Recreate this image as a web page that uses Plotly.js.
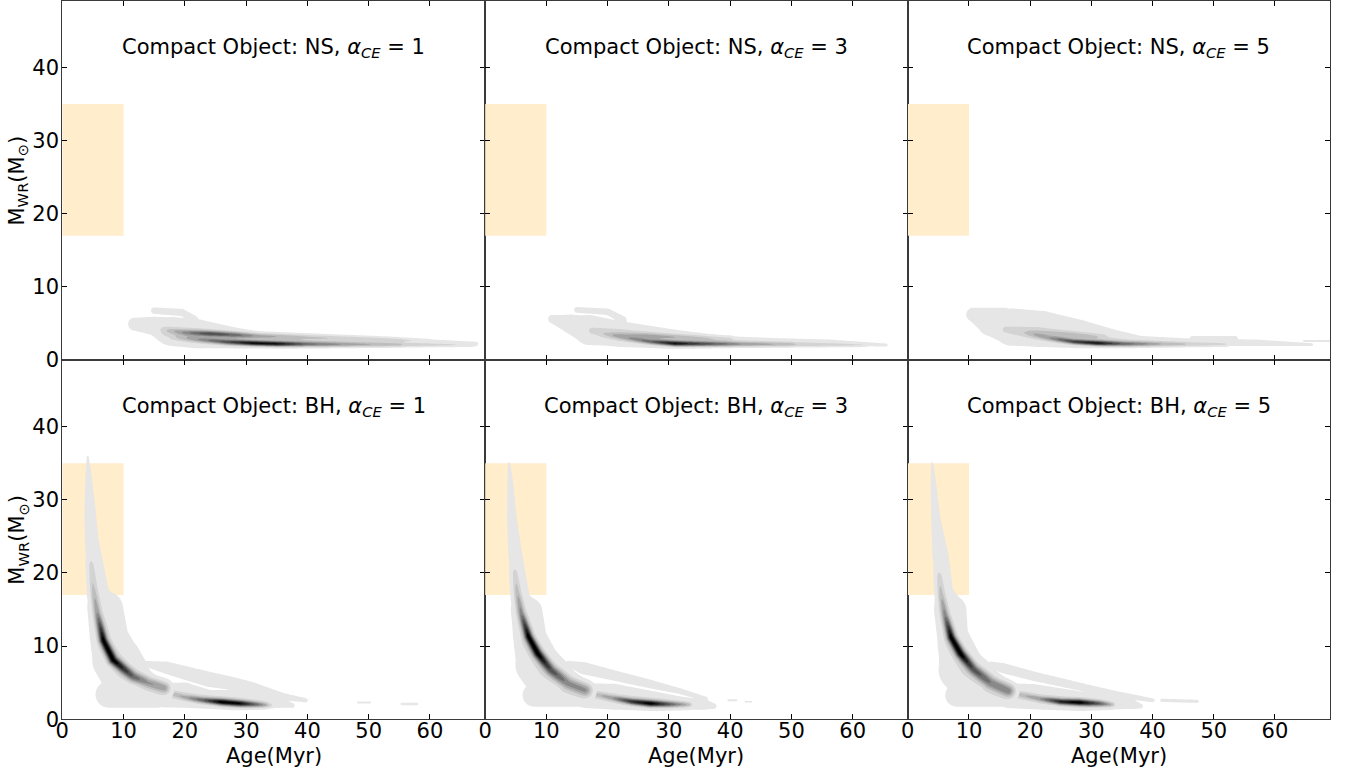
<!DOCTYPE html>
<html>
<head>
<meta charset="utf-8">
<script src="https://cdn.plot.ly/plotly-3.0.1.min.js"></script>
<style>
  html, body { margin: 0; padding: 0; background: #ffffff; }
  #chart { width: 1348px; height: 770px; }
</style>
</head>
<body>
<div id="chart"></div>
<script>
// Panel grid: compact-object type by row, common-envelope efficiency by column
const compactObjects = ['NS', 'BH'];
const alphaCE = [1, 3, 5];

const ageTicks = [0, 10, 20, 30, 40, 50, 60];
const massTicks = [0, 10, 20, 30, 40];
const ageRange = [0, 69];
const massRange = [0, 49.1];

// Observed Wolf-Rayet window
const obsAge = [0, 10];
const obsMass = [17, 35];

// Population density tracks.
// Each row: [age (Myr), M_WR (Msun), density weight, kernel bandwidth (Myr)]

// --- NS, alpha_CE = 1 ---
const ns1Body = [[11.8, 4.9, 2, 0.9], [15, 4.65, 2, 1.3], [18, 4.0, 2, 1.9], [22, 3.75, 2, 1.85], [28, 3.15, 2, 1.25], [32, 2.8, 2, 0.9], [45, 2.6, 2, 0.7], [54, 2.5, 2, 0.58], [67.5, 2.2, 2, 0.3]];
const ns1Knob = [[15, 6.75, 2, 0.45], [19.5, 6.5, 2, 0.5], [21.5, 5.6, 2, 0.5]];
const ns1Mid = [[17, 3.6, 1.5, 0.9], [22, 3.2, 2.5, 0.9], [30, 2.75, 2.5, 0.7], [40, 2.5, 2, 0.5], [55, 2.3, 1.2, 0.4]];
const ns1Upper = [[16.5, 4.1, 1, 0.35], [20, 3.75, 6, 0.35], [24, 3.6, 11, 0.32], [28, 3.45, 9, 0.32], [32, 3.3, 5, 0.3], [40, 3.15, 3, 0.3], [52, 2.85, 2, 0.25], [60, 2.6, 0.8, 0.2]];
const ns1Lower = [[18, 3.1, 1, 0.3], [22, 2.8, 5, 0.3], [27, 2.45, 11, 0.3], [31, 2.3, 16, 0.28], [35, 2.2, 16, 0.28], [40, 2.15, 9, 0.28], [48, 2.1, 5, 0.25], [58, 2.05, 2.5, 0.22], [67, 2.0, 1, 0.2]];

// --- NS, alpha_CE = 3 ---
const ns3Body = [[11, 5.6, 2, 0.6], [14, 4.9, 2, 1.35], [17, 4.1, 2, 2.1], [22, 3.6, 2, 1.7], [30, 3.05, 2, 1.17], [38, 2.6, 2, 0.7], [47, 2.45, 2, 0.56], [56, 2.35, 2, 0.46], [65.5, 2.05, 2, 0.2]];
const ns3Knob = [[15, 6.85, 2, 0.4], [20, 6.6, 2, 0.45], [22.5, 5.5, 2, 0.5]];
const ns3Mid = [[17.5, 4.0, 1.5, 0.6], [22, 3.4, 2.5, 0.8], [30, 2.7, 2.5, 0.7], [40, 2.35, 1.5, 0.4], [50, 2.2, 0.8, 0.3]];
const ns3Upper = [[21, 3.55, 1, 0.3], [27, 3.3, 4, 0.3], [33, 3.1, 3, 0.3], [40, 2.9, 1.5, 0.3]];
const ns3Lower = [[19, 3.6, 1, 0.3], [23, 3.0, 4, 0.3], [27, 2.5, 9, 0.28], [31, 2.25, 16, 0.28], [35, 2.2, 12, 0.28], [42, 2.15, 6, 0.26], [52, 2.1, 3, 0.24], [62, 2.0, 1.2, 0.2]];

// --- NS, alpha_CE = 5 ---
const ns5Body = [[10.6, 6.2, 2, 0.9], [13.5, 5.0, 2, 1.75], [17, 4.5, 2, 2.6], [22, 4.3, 2, 2.45], [28, 3.7, 2, 1.85], [34, 3.0, 2, 1.1], [38, 2.6, 2, 0.7], [46, 2.45, 2, 0.5], [57, 2.35, 2, 0.45], [66, 2.1, 2, 0.2]];
const ns5Cap = [[10.5, 6.6, 2, 0.55], [16, 6.6, 2, 0.55]];
const ns5Bump = [[46.5, 2.9, 2, 0.38], [53.5, 2.9, 2, 0.38]];
const ns5Streak = [[64.8, 2.6, 2, 0.15], [69.5, 2.6, 2, 0.15]];
const ns5Mid = [[16, 4.1, 1.5, 0.6], [21, 3.6, 2.5, 0.8], [28, 2.9, 2.5, 0.7], [36, 2.4, 1.5, 0.4], [45, 2.2, 0.7, 0.3]];
const ns5Upper = [[20, 3.9, 1, 0.3], [26, 3.5, 3, 0.3], [32, 3.2, 1.5, 0.3]];
const ns5Lower = [[19, 3.7, 1, 0.3], [23, 3.0, 5, 0.3], [27, 2.5, 12, 0.28], [31, 2.3, 16, 0.28], [35, 2.2, 10, 0.28], [42, 2.15, 4, 0.26], [52, 2.1, 1.5, 0.24]];

// --- BH, alpha_CE = 1 ---
const bh1Spike = [[4.15, 35.9, 2, 0.13], [4.3, 33, 2, 0.45], [4.5, 29, 2, 0.75], [4.8, 24.5, 2, 0.95], [6.0, 17, 2, 1.45], [7.2, 15.2, 2, 2.3], [7.7, 11.3, 2, 2.6], [8.9, 8.1, 2, 3.4], [10, 6.5, 2, 3.4]];
const bh1Block = [[7.6, 3.4, 2, 1.85], [15.5, 3.4, 2, 1.85]];
const bh1Curve = [[4.5, 22.7, 0.5, 0.3], [5.0, 18, 2.5, 0.35], [5.7, 14.5, 6, 0.4], [6.7, 10.8, 17, 0.45], [8.3, 8.1, 17, 0.5], [11.6, 5.8, 9, 0.55], [14, 5.0, 6, 0.6], [16.6, 4.3, 5, 0.6]];
const bh1CurveMid = [[4.7, 21, 0.8, 0.5], [5.5, 15, 1.5, 0.7], [7, 10, 2, 0.9], [10, 6.6, 2, 0.9], [14, 5.0, 2, 0.8], [16.8, 4.3, 2, 0.8]];
const bh1Branch = [[13.5, 7.6, 2, 0.4], [17, 7.05, 2, 0.85], [20, 6.35, 2, 0.95], [24, 5.45, 2, 1.05], [28, 4.85, 2, 0.9], [31, 4.3, 2, 0.8], [36, 3.1, 2, 0.5], [39.7, 2.6, 2, 0.3]];
const bh1Tail = [[16.5, 3.3, 2, 1.7], [20, 3.3, 2, 1.75], [24, 2.75, 2, 1.25], [28, 2.75, 2, 1.3], [32, 2.5, 2, 1.0], [36, 2.2, 2, 0.65], [37.5, 1.9, 2, 0.35]];
const bh1TailRidge = [[17.5, 3.6, 2, 0.3], [20, 3.0, 4, 0.3], [23, 2.6, 9, 0.32], [26, 2.35, 17, 0.35], [29, 2.15, 16, 0.35], [32, 2.0, 8, 0.3], [34, 1.9, 2, 0.25]];
const bh1TailMid = [[17.5, 3.5, 1.5, 0.6], [22, 2.8, 2, 0.6], [28, 2.3, 2, 0.6], [33, 2.0, 1.5, 0.4]];
const bh1DotA = [[48.3, 2.3, 2, 0.15], [50.2, 2.3, 2, 0.15]];
const bh1DotB = [[55.4, 2.1, 2, 0.17], [57.9, 2.1, 2, 0.17]];

// --- BH, alpha_CE = 3 ---
const bh3Spike = [[3.9, 35.0, 2, 0.13], [4.1, 32.5, 2, 0.4], [4.4, 27.2, 2, 0.68], [4.9, 22.7, 2, 0.95], [5.9, 16.5, 2, 1.2], [7.0, 14.7, 2, 2.0], [7.35, 11.3, 2, 2.25], [8.6, 7.5, 2, 3.1], [10, 6.0, 2, 3.2]];
const bh3Block = [[8.0, 3.3, 2, 1.6], [15.4, 3.3, 2, 1.6]];
const bh3Curve = [[4.7, 20.8, 0.5, 0.3], [5.2, 17.5, 3, 0.35], [5.9, 14.5, 7, 0.4], [7.1, 11.3, 17, 0.45], [8.6, 9.0, 17, 0.5], [10.8, 6.7, 10, 0.55], [13.5, 4.9, 6, 0.65], [16.3, 4.0, 5, 0.65]];
const bh3CurveMid = [[4.8, 20, 0.8, 0.5], [5.5, 15, 1.5, 0.7], [7, 10.5, 2, 0.9], [10, 7, 2.5, 1.0], [13.5, 5, 3, 1.0], [16.6, 4.0, 3, 0.9]];
const bh3Branch = [[13.6, 7.6, 2, 0.4], [16, 7.0, 2, 0.85], [21, 6.0, 2, 0.72], [26.3, 4.95, 2, 0.62], [31.8, 3.85, 2, 0.4], [36, 2.8, 2, 0.3]];
const bh3Tail = [[16.5, 3.2, 2, 1.7], [21, 3.1, 2, 1.8], [26.3, 2.65, 2, 1.37], [31.8, 2.2, 2, 0.92], [36, 2.0, 2, 0.7], [37.3, 1.8, 2, 0.4]];
const bh3TailRidge = [[17.5, 3.5, 2, 0.3], [20.8, 2.9, 5, 0.3], [24, 2.4, 13, 0.33], [27, 2.15, 17, 0.35], [30, 2.05, 10, 0.32], [33.4, 2.0, 2.5, 0.25]];
const bh3TailMid = [[17.5, 3.5, 1.5, 0.6], [22, 2.7, 2, 0.6], [28, 2.2, 2, 0.6], [33, 2.0, 1.2, 0.4]];
const bh3DashA = [[39.7, 2.6, 2, 0.15], [41, 2.6, 2, 0.15]];
const bh3DashB = [[42.5, 2.4, 2, 0.12], [43.5, 2.4, 2, 0.12]];

// --- BH, alpha_CE = 5 ---
const bh5Spike = [[4.0, 35.0, 2, 0.13], [4.2, 32, 2, 0.4], [4.6, 27.2, 2, 0.65], [5.3, 22.7, 2, 1.1], [6.0, 17.4, 2, 1.2], [7.1, 14.9, 2, 2.1], [7.4, 11.7, 2, 2.05], [8.8, 6.8, 2, 3.2], [10, 5.8, 2, 3.2]];
const bh5Block = [[8.0, 3.3, 2, 1.6], [15.4, 3.3, 2, 1.6]];
const bh5Curve = [[5.0, 20.4, 0.5, 0.3], [5.4, 17.2, 3, 0.35], [6.1, 14.2, 7, 0.4], [7.1, 11.2, 17, 0.45], [8.6, 9.0, 17, 0.5], [10.8, 6.8, 10, 0.55], [13.5, 5.0, 7, 0.65], [16.4, 3.9, 6, 0.65]];
const bh5CurveMid = [[5.1, 19.6, 0.8, 0.5], [5.7, 15, 1.5, 0.7], [7, 10.5, 2, 0.9], [10, 7, 2.5, 1.0], [13.5, 5, 3, 1.0], [16.6, 3.9, 3, 0.9]];
const bh5Branch = [[13.5, 7.5, 2, 0.4], [15.5, 7.0, 2, 0.7], [20.5, 5.9, 2, 0.65], [28.7, 4.35, 2, 0.55], [34.1, 3.4, 2, 0.45], [40, 2.6, 2, 0.28]];
const bh5Tail = [[16.5, 3.2, 2, 1.7], [20.5, 3.1, 2, 1.75], [28.7, 2.5, 2, 1.25], [34, 2.3, 2, 0.95], [37, 2.0, 2, 0.6], [38, 1.8, 2, 0.35]];
const bh5TailRidge = [[17.5, 3.5, 2, 0.3], [21.6, 2.8, 5, 0.3], [25, 2.4, 14, 0.33], [28, 2.3, 17, 0.35], [31.3, 2.15, 10, 0.32], [33.5, 2.0, 3, 0.25]];
const bh5TailMid = [[17.5, 3.5, 1.5, 0.6], [22, 2.7, 2, 0.6], [28, 2.25, 2, 0.6], [33, 2.0, 1.2, 0.4]];
const bh5Dash = [[41.5, 2.6, 2, 0.22], [47.3, 2.45, 2, 0.22]];

// Layers per panel (drawn back to front). "base" tracks combine by max,
// "ridge" tracks add on top of them.
const panelLayers = [
  [{ base: [ns1Body, ns1Knob], ridge: [ns1Mid, ns1Upper, ns1Lower] }],
  [{ base: [ns3Body, ns3Knob], ridge: [ns3Mid, ns3Upper, ns3Lower] }],
  [{ base: [ns5Body, ns5Cap, ns5Bump, ns5Streak], ridge: [ns5Mid, ns5Upper, ns5Lower] }],
  [{ base: [bh1Branch, bh1Tail, bh1DotA, bh1DotB], ridge: [bh1TailMid, bh1TailRidge] },
   { base: [bh1Spike, bh1Block], ridge: [bh1CurveMid, bh1Curve] }],
  [{ base: [bh3Branch, bh3Tail, bh3DashA, bh3DashB], ridge: [bh3TailMid, bh3TailRidge] },
   { base: [bh3Spike, bh3Block], ridge: [bh3CurveMid, bh3Curve] }],
  [{ base: [bh5Branch, bh5Tail, bh5Dash], ridge: [bh5TailMid, bh5TailRidge] },
   { base: [bh5Spike, bh5Block], ridge: [bh5CurveMid, bh5Curve] }]
];

// ---------- density evaluation ----------
const KY = 1.2; // mass units weighted against age units in the kernel metric

function gridAxis(parts) {
  const out = [];
  parts.forEach(([a, b, step]) => {
    const n = Math.round((b - a) / step);
    for (let i = (out.length ? 1 : 0); i <= n; i++) out.push(+(a + i * step).toFixed(4));
  });
  return out;
}
const gx = gridAxis([[0, 20, 0.08], [20, 69.5, 0.25]]);
const gyTop = gridAxis([[0, 9, 0.03]]);
const gyBottom = gridAxis([[0, 12, 0.04], [12, 38, 0.1]]);

function trackField(track, xs, ys) {
  const nx = xs.length, ny = ys.length;
  const f = new Float64Array(nx * ny);
  for (let s = 0; s < track.length - 1; s++) {
    const [ax, am, aw, ab] = track[s];
    const [bx, bm, bw, bb] = track[s + 1];
    const ay = am * KY, by = bm * KY;
    const vx = bx - ax, vy = by - ay, L2 = vx * vx + vy * vy;
    const reach = 4.5 * Math.max(ab, bb);
    const xmin = Math.min(ax, bx) - reach, xmax = Math.max(ax, bx) + reach;
    const ymin = (Math.min(ay, by) - reach) / KY, ymax = (Math.max(ay, by) + reach) / KY;
    for (let j = 0; j < ny; j++) {
      const Y = ys[j];
      if (Y < ymin || Y > ymax) continue;
      const py = Y * KY;
      for (let i = 0; i < nx; i++) {
        const X = xs[i];
        if (X < xmin || X > xmax) continue;
        let t = L2 > 0 ? ((X - ax) * vx + (py - ay) * vy) / L2 : 0;
        t = t < 0 ? 0 : (t > 1 ? 1 : t);
        const dx = X - (ax + t * vx), dy = py - (ay + t * vy);
        const b = ab + t * (bb - ab), w = aw + t * (bw - aw);
        const v = w * Math.exp(-(dx * dx + dy * dy) / (2 * b * b));
        const k = j * nx + i;
        if (v > f[k]) f[k] = v;
      }
    }
  }
  return f;
}

function layerField(layer, xs, ys) {
  const n = xs.length * ys.length;
  const base = new Float64Array(n), ridge = new Float64Array(n);
  layer.base.forEach(tr => { const f = trackField(tr, xs, ys); for (let k = 0; k < n; k++) if (f[k] > base[k]) base[k] = f[k]; });
  layer.ridge.forEach(tr => { const f = trackField(tr, xs, ys); for (let k = 0; k < n; k++) ridge[k] += f[k]; });
  const z = [];
  for (let j = 0; j < ys.length; j++) {
    const row = new Array(xs.length);
    for (let i = 0; i < xs.length; i++) { const k = j * xs.length + i; row[i] = base[k] + ridge[k]; }
    z.push(row);
  }
  return z;
}

// ---------- styling ----------
const FONT = 'DejaVu Sans, Liberation Sans, sans-serif';
const bandColors = ['rgba(255,255,255,0)', '#e6e6e6', '#d3d3d3', '#bdbdbd', '#a4a4a4', '#898989', '#6e6e6e', '#535353', '#383838', '#1d1d1d', '#000000'];
const greyScale = bandColors.map((c, k) => [k / (bandColors.length - 1), c]);

const W = 1348, H = 770;
const colEdges = [62.3, 485.1, 907.8, 1330];
const rowEdges = [1, 360, 719.3];

const traces = [];
const layout = {
  width: W, height: H,
  margin: { l: 0, r: 0, t: 0, b: 0 },
  paper_bgcolor: '#ffffff', plot_bgcolor: '#ffffff',
  showlegend: false,
  font: { family: FONT, size: 21, color: '#000' },
  shapes: [], annotations: []
};

for (let p = 0; p < 6; p++) {
  const row = Math.floor(p / 3), col = p % 3, n = p + 1;
  const xa = 'x' + n, ya = 'y' + n;
  const xs = gx, ys = row === 0 ? gyTop : gyBottom;

  panelLayers[p].forEach(layer => {
    traces.push({
      type: 'contour', x: xs, y: ys, z: layerField(layer, xs, ys),
      xaxis: xa, yaxis: ya,
      autocontour: false,
      contours: { start: 1, end: 19, size: 2, coloring: 'fill', showlines: false },
      colorscale: greyScale, showscale: false,
      line: { width: 0, smoothing: 1 },
      hoverinfo: 'skip'
    });
  });

  const axCommon = {
    ticks: 'inside', ticklen: 5, tickwidth: 1, tickcolor: '#000',
    showline: true, linecolor: '#3a3a3a', linewidth: 1, mirror: 'ticks',
    showgrid: false, zeroline: false, fixedrange: true,
    tickfont: { family: FONT, size: 21, color: '#000' }
  };
  layout['xaxis' + (n === 1 ? '' : n)] = Object.assign({}, axCommon, {
    domain: [colEdges[col] / W, colEdges[col + 1] / W],
    range: ageRange, tickmode: 'array', tickvals: ageTicks, ticktext: ageTicks.map(String),
    anchor: ya, showticklabels: row === 1, ticklabelstandoff: -8
  });
  layout['yaxis' + (n === 1 ? '' : n)] = Object.assign({}, axCommon, {
    domain: [1 - rowEdges[row + 1] / H, 1 - rowEdges[row] / H],
    range: massRange, tickmode: 'array', tickvals: massTicks, ticktext: massTicks.map(String),
    anchor: xa, showticklabels: col === 0, ticklabelstandoff: -2
  });

  layout.shapes.push({
    type: 'rect', xref: xa, yref: ya, layer: 'below',
    x0: obsAge[0], x1: obsAge[1], y0: obsMass[0], y1: obsMass[1],
    fillcolor: '#ffedcc', line: { width: 0 }
  });

  layout.annotations.push({
    xref: xa + ' domain', yref: ya + ' domain', x: 0.5, y: 0.868,
    xanchor: 'center', yanchor: 'middle', showarrow: false,
    text: 'Compact Object: ' + compactObjects[row] + ', <i>α</i><sub><i>CE</i></sub> = ' + alphaCE[col],
    font: { family: FONT, size: 21, color: '#000' }
  });

  if (row === 1) {
    layout.annotations.push({
      xref: xa + ' domain', yref: 'paper', x: 0.5, y: 1 - 756 / H,
      xanchor: 'center', yanchor: 'middle', showarrow: false,
      text: 'Age(Myr)', font: { family: FONT, size: 21, color: '#000' }
    });
  }
  if (col === 0) {
    layout.annotations.push({
      xref: 'paper', yref: ya + ' domain', x: 18 / W, y: 0.5,
      xanchor: 'center', yanchor: 'middle', showarrow: false, textangle: -90,
      text: 'M<sub>WR</sub>(M<sub>⊙</sub>)', font: { family: FONT, size: 21, color: '#000' }
    });
  }
}

Plotly.newPlot('chart', traces, layout, { displayModeBar: false, staticPlot: true });
</script>
</body>
</html>
